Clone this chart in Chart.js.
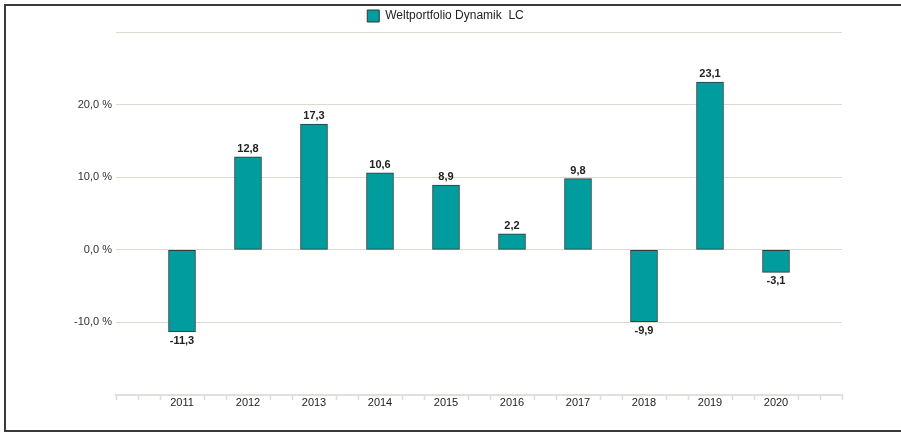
<!DOCTYPE html>
<html>
<head>
<meta charset="utf-8">
<script src="https://cdn.jsdelivr.net/npm/chart.js@4"></script>
<style>
  html, body { margin: 0; padding: 0; background: #fff; overflow: hidden; }
  #frame {
    position: absolute; left: 4px; top: 4px; width: 1000px; height: 424px;
    border: 2px solid #3a3a3a; border-right: none;
  }
  #wrap { position: absolute; left: 0; top: 0; width: 901px; height: 433px; }
</style>
</head>
<body>
<div id="frame"></div>
<div id="wrap"><canvas id="chartRendite" width="901" height="433"></canvas></div>
<script>
const jahre = ['', '2011', '2012', '2013', '2014', '2015', '2016', '2017', '2018', '2019', '2020', ''];
const rendite = [null, -11.3, 12.8, 17.3, 10.6, 8.9, 2.2, 9.8, -9.9, 23.1, -3.1, null];
const serienName = 'Weltportfolio Dynamik  LC';
const yMin = -20;
const yMax = 30;
const yStep = 10;

const schrift = 'Arial, "Liberation Sans", Helvetica, sans-serif';
const fmt = v => v.toFixed(1).replace('.', ',');

// Werte über/unter den Balken
const wertLabels = {
    id: 'wertLabels',
    afterDatasetsDraw(chart) {
        const ctx = chart.ctx;
        const meta = chart.getDatasetMeta(0);
        ctx.save();
        ctx.font = 'bold 11px ' + schrift;
        ctx.fillStyle = '#222';
        ctx.textAlign = 'center';
        ctx.textBaseline = 'alphabetic';
        meta.data.forEach((bar, i) => {
            const v = rendite[i];
            if (v == null) return;
            if (v >= 0) ctx.fillText(fmt(v), bar.x, bar.y - 5);
            else ctx.fillText(fmt(v), bar.x, bar.y + 12);
        });
        ctx.restore();
    }
};

// kleine Striche unter der x-Achse
const achsStriche = {
    id: 'achsStriche',
    afterDraw(chart) {
        const x = chart.scales.x;
        const ctx = chart.ctx;
        const n = (jahre.length - 1) * 3;
        ctx.save();
        ctx.strokeStyle = '#dedbd3';
        ctx.lineWidth = 1.5;
        for (let k = 0; k <= n; k++) {
            if (k % 3 === 0 && k > 0 && k < n) continue;
            const px = Math.round(x.getPixelForValue(k / 3)) + 0.5;
            ctx.beginPath();
            ctx.moveTo(px, x.top);
            ctx.lineTo(px, x.top + 5);
            ctx.stroke();
        }
        ctx.restore();
    }
};

new Chart(document.getElementById('chartRendite'), {
    type: 'bar',
    data: {
        labels: jahre,
        datasets: [{
            label: serienName,
            data: rendite,
            backgroundColor: '#009c9e',
            borderColor: '#2d3b3b',
            borderWidth: 1,
            borderSkipped: false,
            barThickness: 27
        }]
    },
    options: {
        responsive: false,
        animation: false,
        layout: { padding: { left: 0, right: 10, top: 0, bottom: 8 } },
        plugins: {
            legend: {
                position: 'top',
                labels: {
                    boxWidth: 12,
                    boxHeight: 12,
                    padding: 10,
                    color: '#222',
                    font: { family: schrift, size: 12 }
                }
            },
            tooltip: { enabled: false }
        },
        scales: {
            x: {
                offset: false,
                grid: { display: false, drawTicks: false },
                border: { display: true, color: '#e2dfd8', width: 2 },
                ticks: {
                    padding: 1,
                    autoSkip: false,
                    maxRotation: 0,
                    color: '#222',
                    font: { family: schrift, size: 11 }
                },
                afterFit: s => { s.height = 30; }
            },
            y: {
                min: yMin,
                max: yMax,
                ticks: {
                    stepSize: yStep,
                    padding: 4,
                    color: '#333',
                    font: { family: schrift, size: 11 },
                    callback: v => (v === yMin || v === yMax) ? '' : fmt(v) + ' %'
                },
                grid: {
                    drawTicks: false,
                    color: c => c.tick && c.tick.value === yMin ? 'rgba(0,0,0,0)' : '#dcd9d1'
                },
                border: { display: false },
                afterFit: s => { s.width = 116; }
            },
            rechts: {
                position: 'right',
                min: yMin,
                max: yMax,
                grid: { display: false, drawTicks: false },
                border: { display: false },
                ticks: { display: false },
                afterFit: s => { s.width = 49; }
            }
        }
    },
    plugins: [wertLabels, achsStriche]
});
</script>
</body>
</html>
